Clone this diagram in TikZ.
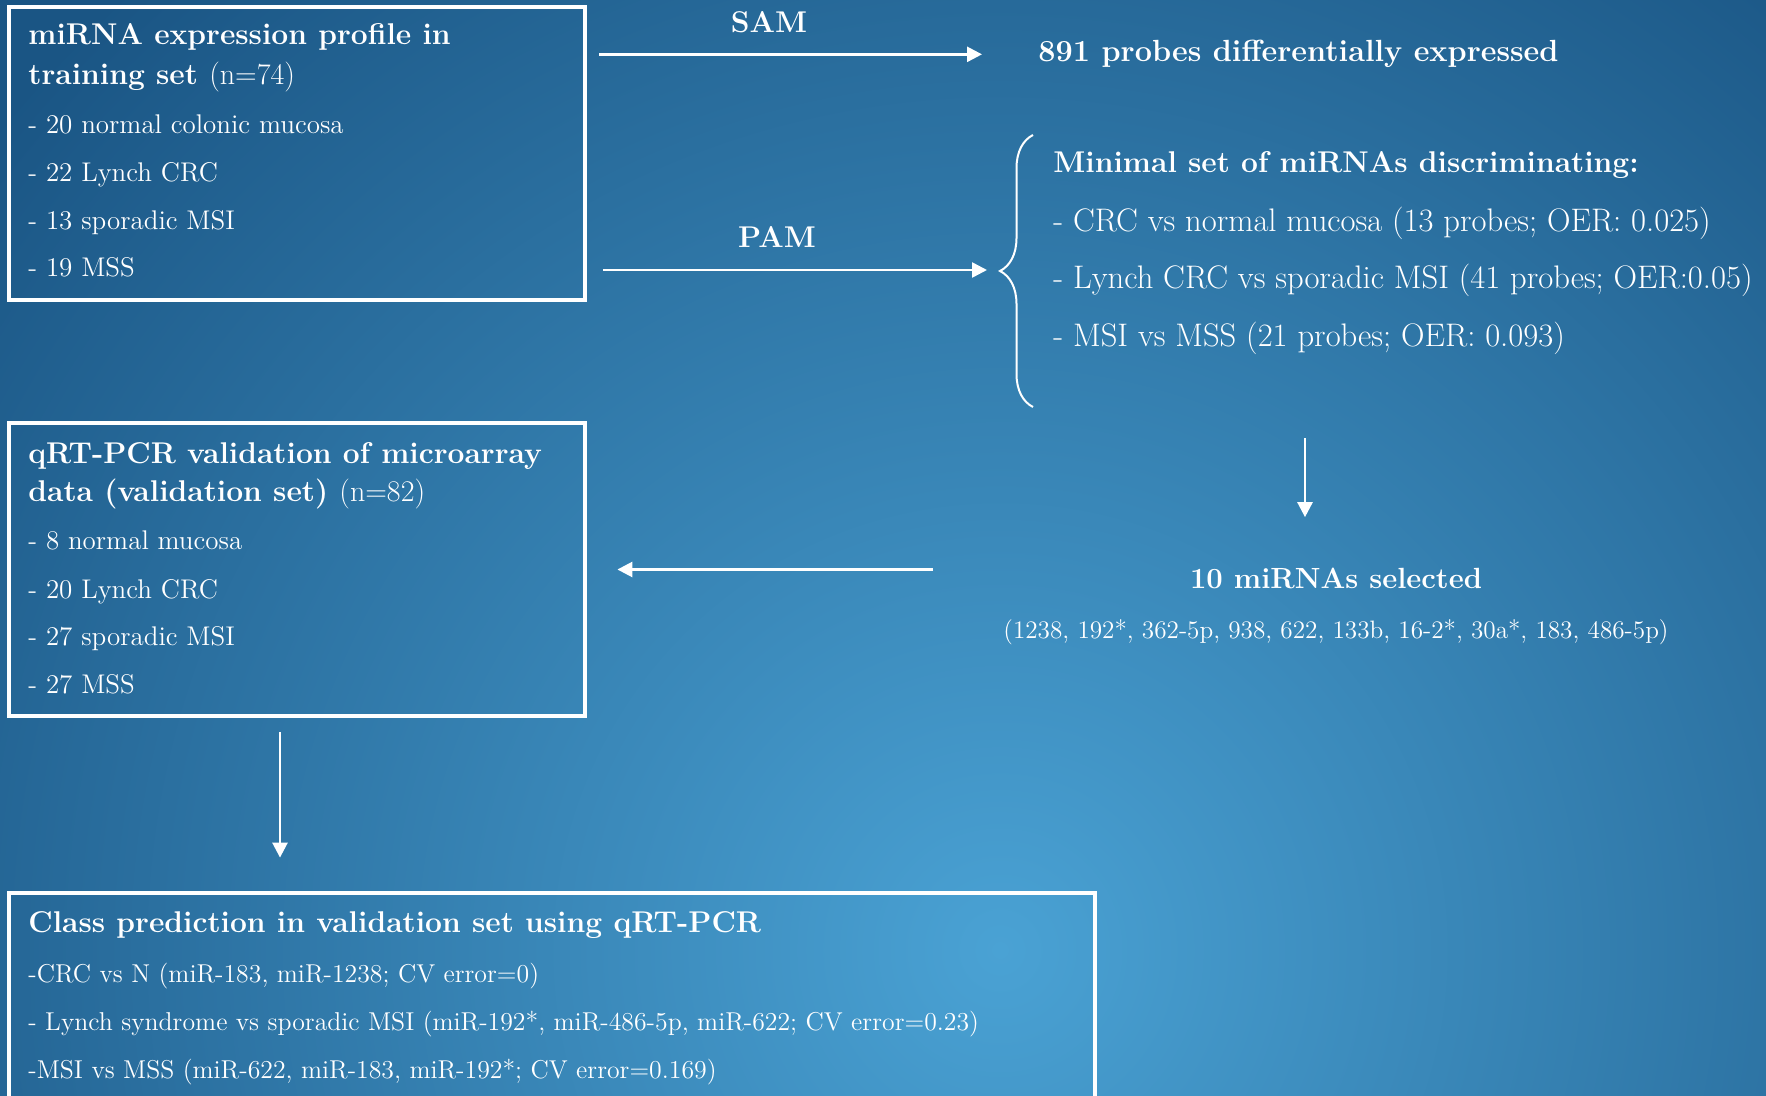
\documentclass[tikz,border=0pt]{standalone}
\usepackage{fontspec}
\usetikzlibrary{arrows.meta,decorations.pathreplacing,fit}
\definecolor{bgdark}{HTML}{1A5584}
\definecolor{bglight}{HTML}{4AA2D4}

\begin{document}
\begin{tikzpicture}[x=0.5pt,y=-0.5pt,
    box/.style={draw=white,line width=2.4pt,inner sep=0pt},
    ttl/.style={text=white,anchor=base west,inner sep=0pt,font=\fontsize{15}{18}\selectfont\bfseries},
    itm/.style={text=white,anchor=base west,inner sep=0pt,font=\fontsize{13.5}{16}\selectfont},
    big/.style={itm,font=\fontsize{16.3}{19}\selectfont},
    sml/.style={itm,font=\fontsize{12.9}{15}\selectfont},
    lbl/.style={text=white,anchor=base,inner sep=0pt,font=\fontsize{15}{18}\selectfont\bfseries},
    arr/.style={draw=white,line width=1.3pt,-{Triangle[length=7.5pt,width=7.5pt]}}]

    % Background
    \useasboundingbox (0,0) rectangle (1766,1096);
    \clip (0,0) rectangle (1766,1096);
    \fill[bgdark] (0,0) rectangle (1766,1096);
    \shade[inner color=bglight,outer color=bgdark] (1000,950) circle (650pt);

    % Training set
    \node[box,fit={(9,7) (585,300)}] (train) {};
    \node[ttl] (train-t1) at (28,45) {miRNA expression profile in};
    \node[ttl] (train-t2) at (28,85) {training set \textmd{(n=74)}};
    \foreach \y/\t [count=\i] in {134/{- 20 normal colonic mucosa},182/{- 22 Lynch CRC},
        230/{- 13 sporadic MSI},277/{- 19 MSS}}
        \node[itm] (train-\i) at (28,\y) {\t};

    % SAM
    \node[ttl,font=\fontsize{15.3}{18}\selectfont\bfseries] (probes) at (1038,62) {891 probes differentially expressed};
    \node[lbl] (sam) at (769,33) {SAM};
    \draw[arr,shorten <=6pt,shorten >=28pt] (train.east |- probes.west) -- (probes.west);

    % PAM
    \node[lbl] (pam) at (777,248) {PAM};
    \coordinate (btip) at (1000,270);
    \draw[white,line width=1pt,decorate,decoration={brace,amplitude=16.5pt}] (1033,407) -- (1033,135);
    \draw[arr,shorten <=8pt,shorten >=6.5pt] (train.east |- btip) -- (btip);

    \node[ttl] (minset) at (1053,173) {Minimal set of miRNAs discriminating:};
    \foreach \y/\t [count=\i] in {232/{- CRC vs normal mucosa (13 probes; OER: 0.025)},
        289/{- Lynch CRC vs sporadic MSI (41 probes; OER:0.05)},
        347/{- MSI vs MSS (21 probes; OER: 0.093)}}
        \node[big] (minset-\i) at (1053,\y) {\t};

    % Selected miRNAs
    \node[ttl,anchor=base,font=\fontsize{14.6}{17}\selectfont\bfseries] (sel) at (1336,588) {10 miRNAs selected};
    \node[itm,anchor=base,font=\fontsize{12.6}{15}\selectfont] (mirs) at (1336,638) {(1238, 192*, 362-5p, 938, 622, 133b, 16-2*, 30a*, 183, 486-5p)};
    \coordinate (dtop) at (1305,438);
    \draw[arr,shorten >=25pt] (dtop) -- (dtop |- sel.north);

    % Validation set
    \node[box,fit={(9,423) (585,716)}] (valid) {};
    \node[ttl] (valid-t1) at (28,463) {qRT-PCR validation of microarray};
    \node[ttl] (valid-t2) at (28,501) {data (validation set) \textmd{(n=82)}};
    \foreach \y/\t [count=\i] in {549/{- 8 normal mucosa},598/{- 20 Lynch CRC},
        645/{- 27 sporadic MSI},693/{- 27 MSS}}
        \node[itm] (valid-\i) at (28,\y) {\t};
    \draw[arr,shorten <=35pt,shorten >=15pt] (mirs.west |- valid.east) -- (valid.east);

    % Class prediction
    \node[box,fit={(9,893) (1095,1110)}] (pred) {};
    \node[ttl] (pred-t) at (28,932) {Class prediction in validation set using qRT-PCR};
    \foreach \y/\t [count=\i] in {982/{-CRC vs N (miR-183, miR-1238; CV error=0)},
        1030/{- Lynch syndrome vs sporadic MSI (miR-192*, miR-486-5p, miR-622; CV error=0.23)},
        1078/{-MSI vs MSS (miR-622, miR-183, miR-192*; CV error=0.169)}}
        \node[sml] (pred-\i) at (28,\y) {\t};
    \path ([xshift=-8.5pt]valid.south) coordinate (vdown);
    \draw[arr,shorten <=7pt,shorten >=16.5pt] (vdown) -- (vdown |- pred.north);
\end{tikzpicture}
\end{document}
